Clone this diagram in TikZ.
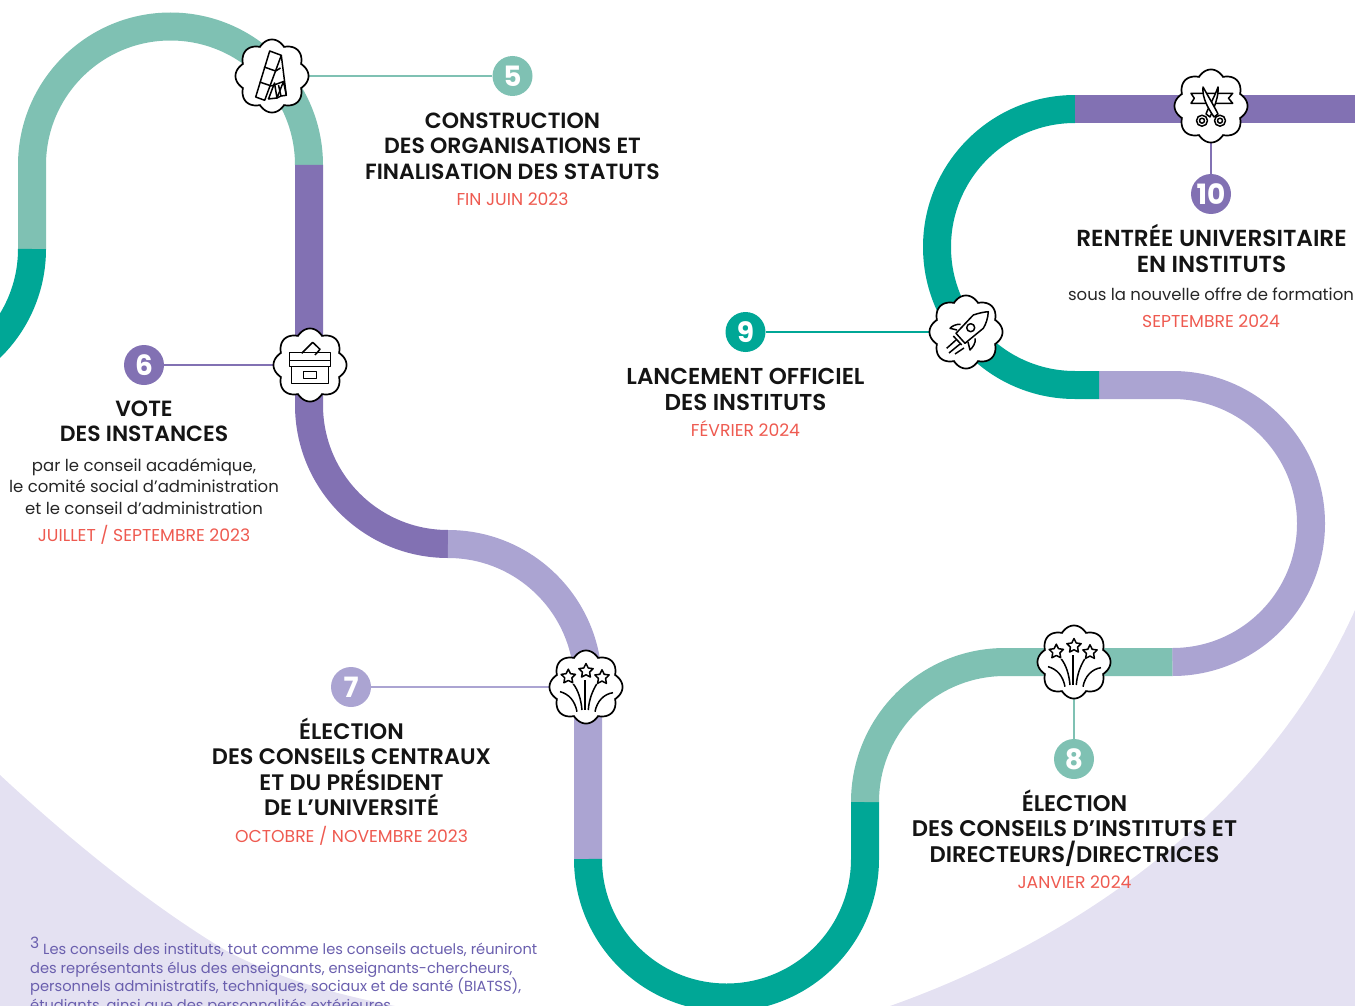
\documentclass[tikz,border=0pt]{standalone}
\usepackage{fontspec}
\setmainfont{Poppins}
\newfontfamily\headfont{Poppins SemiBold}
\usetikzlibrary{positioning}
\definecolor{tealdark}{HTML}{00A796}
\definecolor{teallight}{HTML}{7FC1B3}
\definecolor{plumdark}{HTML}{8271B3}
\definecolor{plumlight}{HTML}{ABA4D2}
\definecolor{backplum}{HTML}{E4E1F2}
\definecolor{datered}{HTML}{EE5A50}
\definecolor{notetext}{HTML}{6A5FAE}
\newcommand{\firestar}[3]{\draw plot[samples at={0,...,10}] ({#1+#3*(1-.5*mod(\x,2))*cos(36*\x-90)},{#2+#3*(1-.5*mod(\x,2))*sin(36*\x-90)}) -- cycle;}
\tikzset{
  x=1pt,y=-1pt,
  track/.style={line width=28pt},
  link/.style={line width=2.6pt},
  numdot/.style={circle,fill=#1,text=white,minimum size=40pt,inner sep=0pt,font=\fontsize{28}{28}\selectfont\bfseries},
  slot/.style={circle,minimum size=66pt,inner sep=0pt},
  heading/.style={align=center,inner sep=0pt,font=\fontsize{#1}{25.5}\selectfont\headfont,text=black!92},
  heading/.default=22.4,
  body/.style={align=center,inner sep=0pt,font=\fontsize{16.5}{21.6}\selectfont\color{black!85}},
  when/.style={anchor=base,inner sep=0pt,font=\fontsize{17.2}{18}\selectfont,text=datered},
  cloud/.pic={\draw[fill=white,line width=1.7pt] plot[domain=0:360,samples=241,smooth] ({(31.5+5*abs(cos(4*\x)))*cos(\x)},{(31.5+5*abs(cos(4*\x)))*sin(\x)}) -- cycle;},
  icon/.style={line width=1.5pt,line join=round},
  cards/.pic={
    \draw[icon] (-2.3,-25) -- (9.3,-20.7) -- (-7.3,24.3) -- (-16.3,21) -- cycle;
    \draw[icon] (-8,-9) -- (3.7,-5) (-12.3,6) -- (-.7,10);
    \draw[icon] (9.3,-20.7) -- (14.3,19.3);
    \draw[icon] (3.7,-5) -- (8.5,-8) (-.7,10) -- (11.5,5.5);
    \draw[icon] (-3.5,23) -- (2.5,7) -- (5,22) -- (11.5,5.5) -- (14.3,19.3) -- (9,20);
    \draw[icon] (-4,23) -- (5,22) -- (9,20) -- (6.5,9);
  },
  scissors/.pic={
    \draw[icon,fill=white] (-20,-12.7) -- (21.7,-12.7) -- (17.5,-7.7) -- (21.7,-2.7) -- (-20,-2.7) -- (-16.7,-7.7) -- cycle;
    \draw[icon,fill=white] (7,-19) .. controls (4,-10) and (-2,0) .. (-5,8) -- (-1,11) .. controls (3,2) and (8,-10) .. (7,-19) -- cycle;
    \draw[icon,fill=white] (-8,-19) .. controls (-9,-8) and (-3,2) .. (3,11) -- (7,8) .. controls (3,0) and (-3,-10) .. (-8,-19) -- cycle;
    \draw[icon] (-9,14.7) circle (5.5) (-9,14.7) circle (2.5);
    \draw[icon] (9,14.7) circle (5.5) (9,14.7) circle (2.5);
  },
  rocket/.pic={
    \draw[icon] (7.3,-17) .. controls (13,-19) and (18,-20) .. (22.3,-20.3) .. controls (22,-14) and (20,-8) .. (17.3,-3.7) -- (-1,11.3) -- (-10,1.3) -- cycle;
    \draw[icon] (4.7,-4.3) circle (4);
    \draw[icon] (-5.3,-7.7) .. controls (-10,-8) and (-14,-6) .. (-16,-3.7) -- (-9,-2);
    \draw[icon] (9,6.3) .. controls (10,11) and (7,15) .. (4,18) -- (2,10);
    \draw[icon] (-12.7,4) -- (-4.3,13);
    \draw[icon] (-10,8) -- (-19.3,16.3) (-6,12) -- (-17,21) (-2,16) -- (-11,22);
  },
  ballot/.pic={
    \draw[icon] (-8.3,-11.7) -- (2.7,-22.7) -- (10,-15.7) -- (5,-10);
    \draw[icon] (-20.7,-12.7) rectangle (20.7,1.7);
    \draw[icon] (-20.7,-4.3) -- (20.7,-4.3);
    \draw[icon] (-18.3,1.7) rectangle (18.3,18.3);
    \draw[icon] (-6.7,6.7) rectangle (6.7,13.3);
  },
  fireworks/.pic={
    \begin{scope}[icon]
      \firestar{0}{-16}{7.5}
      \firestar{-17.7}{-10.3}{7.5}
      \firestar{16}{-9.7}{7.5}
      \draw (-1,-7) -- (-1,23);
      \draw (-12.7,-3) .. controls (-8,3) and (-5,12) .. (-4,23);
      \draw (10.7,-3) .. controls (7,3) and (3,12) .. (2.3,23);
      \draw (-26,4.7) .. controls (-17,7) and (-11,14) .. (-9,24.7);
      \draw (27,5.7) .. controls (18,7) and (11,14) .. (9,24.7);
    \end{scope}
  }
}
\begin{document}
\begin{tikzpicture}
\path[use as bounding box,clip] (0,0) rectangle (1355,1006);
% background
\fill[backplum] (0,775) .. controls (70,840) and (150,905) .. (225,950) .. controls (280,980) and (340,995) .. (395,1006) -- (0,1006) -- cycle;
\fill[backplum] (890,1006) .. controls (1090,935) and (1270,800) .. (1355,610) -- (1355,1006) -- cycle;
% road
\draw[track,teallight] (32,250) -- (32,165) arc (180:360:138.5);
\draw[track,tealdark] (32,249) arc (0:90:138);
\draw[track,plumdark] (309,165) -- (309,405) arc (180:90:139);
\draw[track,plumlight] (448,544) arc (270:360:140) -- (588,859);
\draw[track,tealdark] (588,859) arc (180:0:138.5) -- (865,802);
\draw[track,teallight] (865,802) arc (180:270:140) -- (1172.5,662);
\draw[track,plumlight] (1172.5,662) arc (90:-90:138.5) -- (1099,385);
\draw[track,tealdark] (1099,385) -- (1075,385) arc (90:270:138);
\draw[track,plumdark] (1075,109) -- (1355,109);
% steps
\node[slot] (stepfive) at (272,76) {};
\node[slot] (stepsix) at (310,365) {};
\node[slot] (stepseven) at (586,687) {};
\node[slot] (stepeight) at (1074,662) {};
\node[slot] (stepnine) at (966,332) {};
\node[slot] (stepten) at (1211,106) {};
\node[numdot=teallight] (numfive) at (512.5,76) {5};
\node[numdot=plumdark] (numsix) at (144,365) {6};
\node[numdot=plumlight] (numseven) at (351,687) {7};
\node[numdot=teallight] (numeight) at (1074,759) {8};
\node[numdot=tealdark] (numnine) at (745.5,332) {9};
\node[numdot=plumdark] (numten) at (1211,194) {10};
\draw[link,teallight] (numfive) -- (stepfive);
\draw[link,plumdark] (numsix) -- (stepsix);
\draw[link,plumlight] (numseven) -- (stepseven);
\draw[link,teallight] (numeight) -- (stepeight);
\draw[link,tealdark] (numnine) -- (stepnine);
\draw[link,plumdark] (numten) -- (stepten);
\foreach \place/\drawing in {stepfive/cards,stepsix/ballot,stepseven/fireworks,stepeight/fireworks,stepnine/rocket,stepten/scissors}{
  \pic at (\place) {cloud};
  \pic at (\place) {\drawing};
}
% labels
\node[heading=22,anchor=north] (titlefive) at (512.5,112.5) {CONSTRUCTION\\DES ORGANISATIONS ET\\FINALISATION DES STATUTS};
\node[when] (datefive) at (512.5,205) {FIN JUIN 2023};
\node[heading=22,anchor=north] (titlesix) at (144,400.5) {VOTE\\DES INSTANCES};
\node[body,anchor=north] (textsix) at (144,458) {par le conseil académique,\\le comité social d’administration\\et le conseil d’administration};
\node[when] (datesix) at (144,541) {JUILLET / SEPTEMBRE 2023};
\node[heading,anchor=north] (titleseven) at (351.5,717.5) {ÉLECTION\\DES CONSEILS CENTRAUX\\ET DU PRÉSIDENT\\DE L’UNIVERSITÉ};
\node[when] (dateseven) at (351.5,842) {OCTOBRE / NOVEMBRE 2023};
\node[heading=22.6,anchor=north] (titleeight) at (1074.5,789.5) {ÉLECTION\\DES CONSEILS D’INSTITUTS ET\\DIRECTEURS/DIRECTRICES};
\node[when] (dateeight) at (1074.5,888) {JANVIER 2024};
\node[heading=23,anchor=north] (titlenine) at (745.5,368.5) {LANCEMENT OFFICIEL\\DES INSTITUTS};
\node[when] (datenine) at (745.5,436) {FÉVRIER 2024};
\node[heading=23.2,anchor=north] (titleten) at (1211.5,224.5) {RENTRÉE UNIVERSITAIRE\\EN INSTITUTS};
\node[body] (textten) at (1211,294) {sous la nouvelle offre de formation};
\node[when] (dateten) at (1211,327) {SEPTEMBRE 2024};
% note
\node[anchor=north west,inner sep=0pt,align=left,text=notetext,font=\fontsize{14.65}{18.5}\selectfont] (note) at (30,937) {\raisebox{6pt}{\fontsize{15.5}{18.5}\selectfont 3} Les conseils des instituts, tout comme les conseils actuels, réuniront\\des représentants élus des enseignants, enseignants-chercheurs,\\personnels administratifs, techniques, sociaux et de santé (BIATSS),\\étudiants, ainsi que des personnalités extérieures.};
\end{tikzpicture}
\end{document}
